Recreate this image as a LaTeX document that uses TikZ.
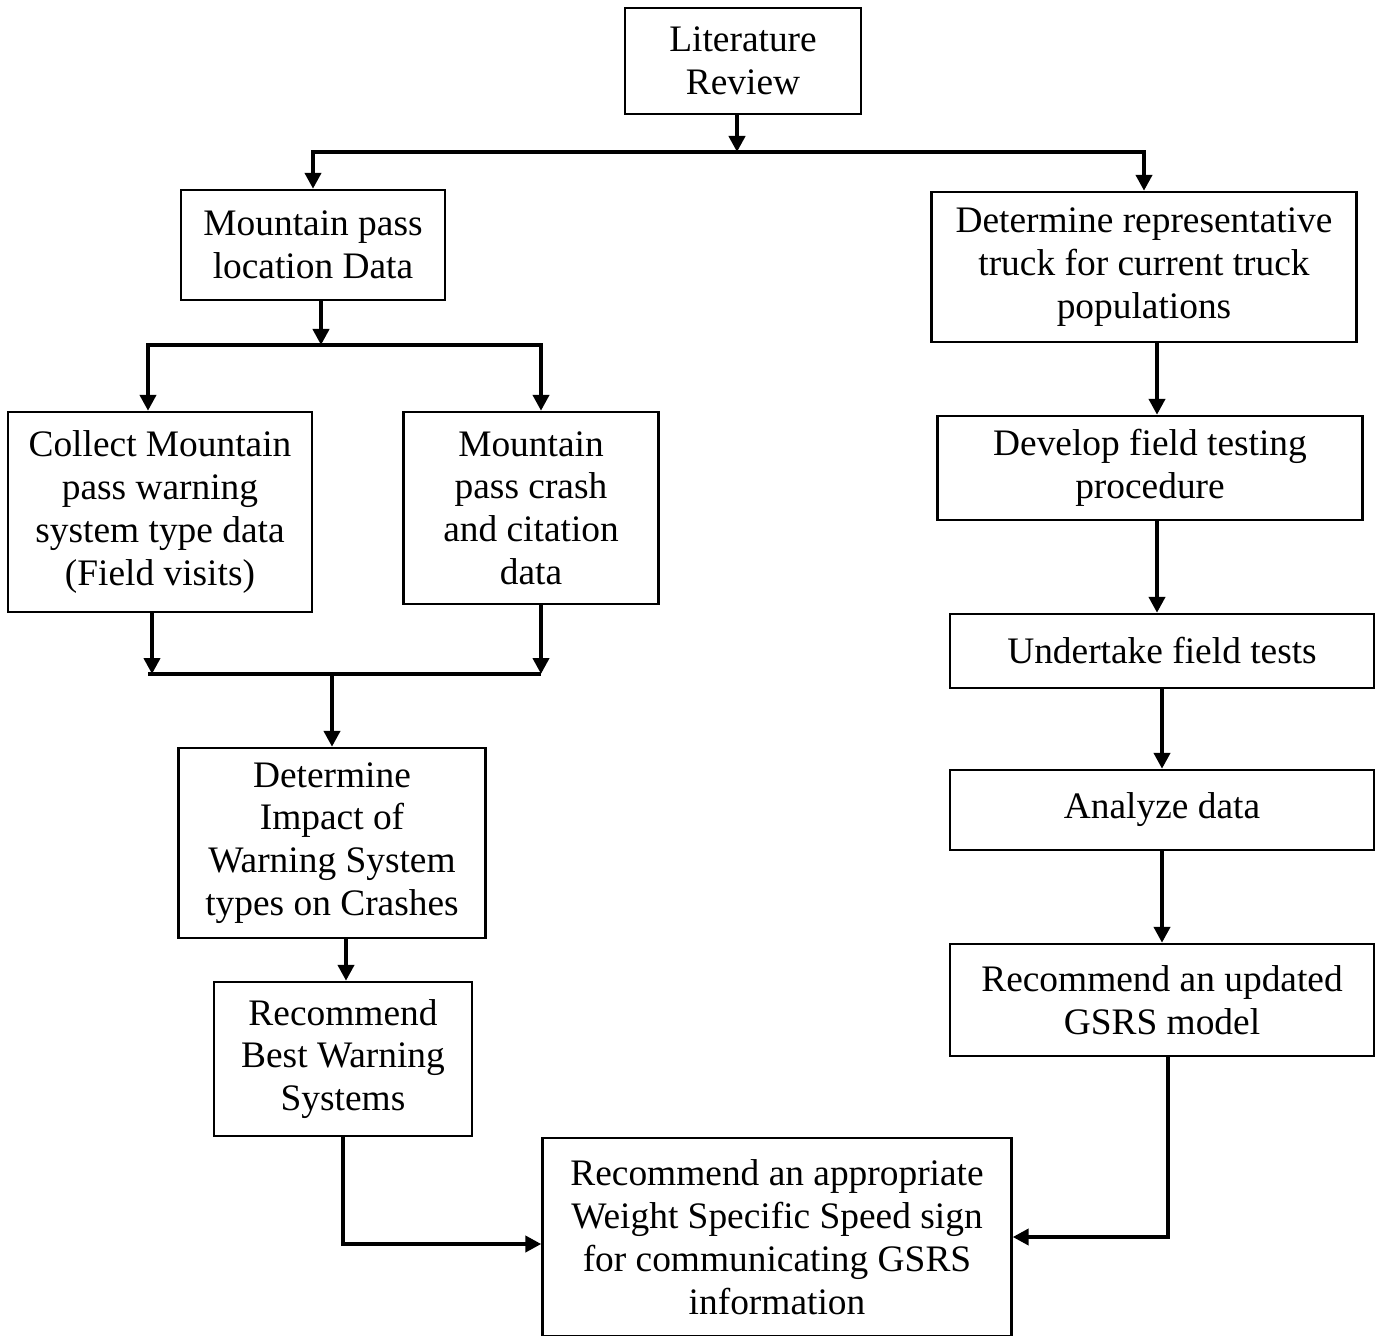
\documentclass[tikz,border=0pt]{standalone}
\usepackage{fontspec}
\setmainfont{Liberation Serif}
\usetikzlibrary{arrows.meta, positioning, calc}

\begin{document}
\begin{tikzpicture}[x=0.5pt, y=-0.5pt,
        box/.style={rectangle, draw, line width=1.2pt, align=center, inner sep=0pt,
            font=\fontsize{18.7}{21.4}\selectfont},
        arrow/.style={line width=2pt, -{Triangle[length=8pt,width=8pt]}},
        line/.style={line width=2pt}
    ]
        \useasboundingbox (0,0) rectangle (1375,1336);

        \node[box, minimum width=118pt, minimum height=53pt] (lit) at (743,61) {Literature\\Review};
        \node[box, minimum width=132pt, minimum height=55pt] (loc) at (313,245) {Mountain pass\\location Data};
        \node[box, minimum width=212.5pt, minimum height=75pt] (rep) at (1144,267) {Determine representative\\truck for current truck\\populations};
        \node[box, minimum width=152pt, minimum height=100pt] (col) at (160,512) {Collect Mountain\\pass warning\\system type data\\(Field visits)};
        \node[box, minimum width=127.5pt, minimum height=96pt] (crash) at (531,508) {Mountain\\pass crash\\and citation\\data};
        \node[box, minimum width=212.5pt, minimum height=52pt] (dev) at (1150,468) {Develop field testing\\procedure};
        \node[box, minimum width=212pt, minimum height=37pt] (und) at (1162,651) {Undertake field tests};
        \node[box, minimum width=212pt, minimum height=40pt] (ana) at (1162,810) {Analyze data};
        \node[box, minimum width=153.5pt, minimum height=95pt] (imp) at (332,843) {Determine\\Impact of\\Warning System\\types on Crashes};
        \node[box, minimum width=212pt, minimum height=56pt] (gsrs) at (1162,1000) {Recommend an updated\\GSRS model};
        \node[box, minimum width=129pt, minimum height=77pt] (best) at (343,1059) {Recommend\\Best Warning\\Systems};
        \node[box, minimum width=234.5pt, minimum height=99pt] (appr) at (777,1237) {Recommend an appropriate\\Weight Specific Speed sign\\for communicating GSRS\\information};

        % junctions
        \coordinate (top) at (737,152);
        \coordinate (split) at (321,345);
        \coordinate (merge) at (332,674);

        \draw[arrow] ([xshift=-3pt]lit.south) -- (top);
        \draw[arrow] (top) -| (loc.north);
        \draw[arrow] (top) -| (rep.north);

        \draw[arrow] ([xshift=4pt]loc.south) -- (split);
        \draw[arrow] (split) -| ([xshift=-6pt]col.north);
        \draw[arrow] (split) -| ([xshift=5pt]crash.north);

        \draw[arrow] ([xshift=-4pt]col.south) -- ([xshift=-4pt]col.south |- merge);
        \draw[arrow] ([xshift=5pt]crash.south) -- ([xshift=5pt]crash.south |- merge);
        \draw[line] ([xshift=-6pt]col.south |- merge) -- ([xshift=5pt]crash.south |- merge);
        \draw[arrow] (merge) -- (imp.north);

        \draw[arrow] ([xshift=7pt]imp.south) -- ([xshift=7pt]imp.south |- best.north);
        \draw[arrow] (best.south) |- ([yshift=-3.5pt]appr.west);

        \draw[arrow] ([xshift=6.5pt]rep.south) -- ([xshift=6.5pt]rep.south |- dev.north);
        \draw[arrow] ([xshift=3.5pt]dev.south) -- ([xshift=3.5pt]dev.south |- und.north);
        \draw[arrow] (und) -- (ana);
        \draw[arrow] (ana) -- (gsrs);
        \draw[arrow] ([xshift=3pt]gsrs.south) |- (appr.east);
    \end{tikzpicture}
\end{document}
